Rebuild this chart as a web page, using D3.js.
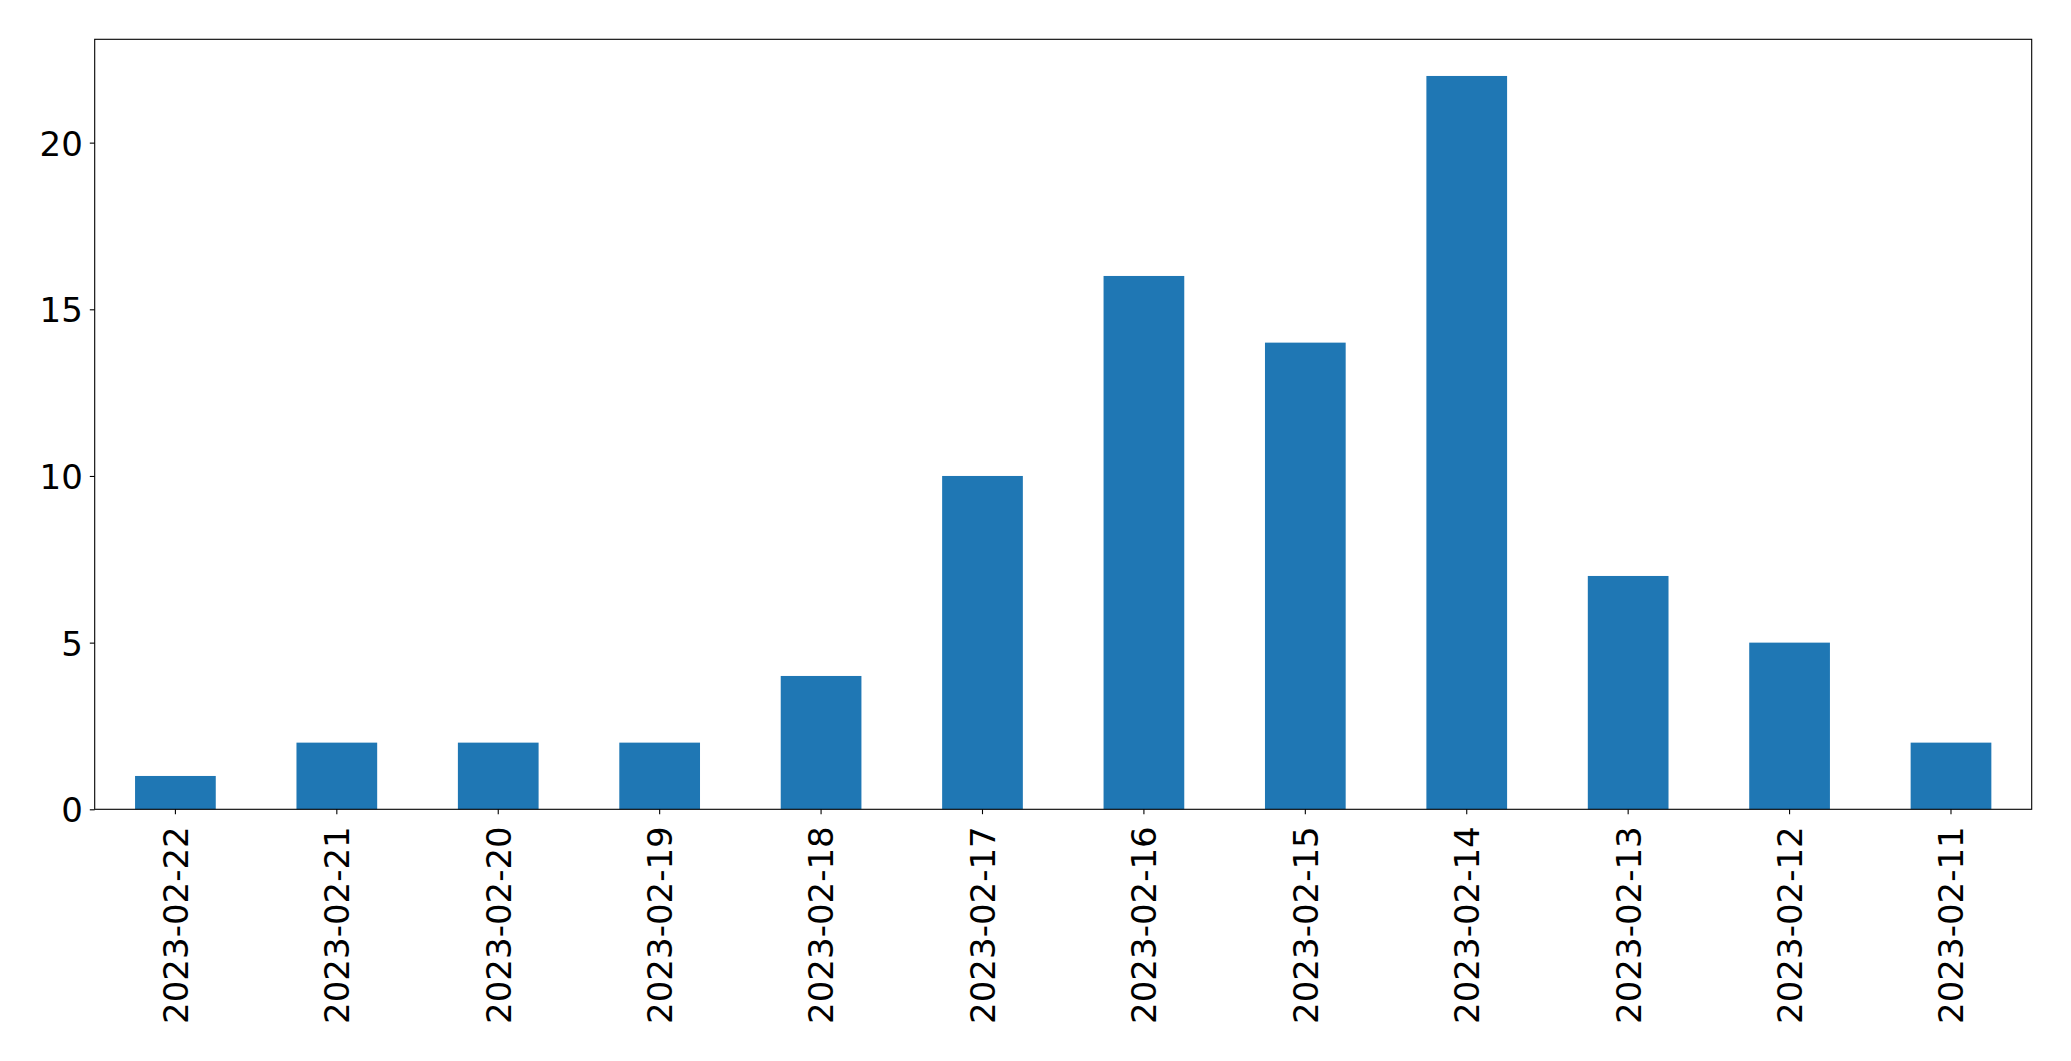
<!DOCTYPE html>
<html>
<head>
<meta charset="utf-8">
<script src="https://cdn.jsdelivr.net/npm/d3@7"></script>
<style>
html,body{margin:0;padding:0;background:#fff;}
svg{display:block;}
</style>
</head>
<body>
<svg id="chart" width="2071" height="1061"></svg>
<script>
const categories = ["2023-02-22","2023-02-21","2023-02-20","2023-02-19","2023-02-18","2023-02-17","2023-02-16","2023-02-15","2023-02-14","2023-02-13","2023-02-12","2023-02-11"];
const counts = [1,2,2,2,4,10,16,14,22,7,5,2];
const yTicks = [0,5,10,15,20];

(function(){
const svg = d3.select("#chart");
const pLeft = 94.7, pRight = 2031.7, pTop = 39.3, pBottom = 809.3;
const fontSize = 34;
const font = "'DejaVu Sans', sans-serif";

const x = d3.scaleBand().domain(categories).range([pLeft, pRight]).paddingInner(0.5).paddingOuter(0.25);
const yMax = d3.max(counts) * 1.05;
const y = d3.scaleLinear().domain([0, yMax]).range([pBottom, pTop]);

svg.append("g").selectAll("rect").data(counts).join("rect")
  .attr("x", (d,i) => x(categories[i]))
  .attr("width", x.bandwidth())
  .attr("y", d => y(d))
  .attr("height", d => y(0) - y(d))
  .attr("fill", "#1f77b4");

// y axis
const yAxis = svg.append("g").attr("transform", `translate(${pLeft},0)`)
  .call(d3.axisLeft(y).tickValues(yTicks).tickFormat(d3.format("d")).tickSize(4.9).tickPadding(7));
yAxis.select(".domain").remove();
yAxis.selectAll("line").attr("stroke", "#000").attr("stroke-width", 1.1);
yAxis.selectAll("text").attr("font-family", font).attr("font-size", fontSize).attr("fill", "#000").attr("dy", "0.364em");

// x axis
const xAxis = svg.append("g").attr("transform", `translate(0,${pBottom})`)
  .call(d3.axisBottom(x).tickSize(4.9).tickSizeOuter(0));
xAxis.select(".domain").remove();
xAxis.selectAll("line").attr("stroke", "#000").attr("stroke-width", 1.1);
xAxis.selectAll("text")
  .attr("font-family", font).attr("font-size", fontSize).attr("fill", "#000")
  .attr("text-anchor", "end")
  .attr("transform", "rotate(-90)")
  .attr("x", -17).attr("y", 0).attr("dy", "0.364em");

// frame
svg.append("rect").attr("x", pLeft).attr("y", pTop).attr("width", pRight-pLeft).attr("height", pBottom-pTop)
  .attr("fill", "none").attr("stroke", "#000").attr("stroke-width", 1.1);
})();
</script>
</body>
</html>
